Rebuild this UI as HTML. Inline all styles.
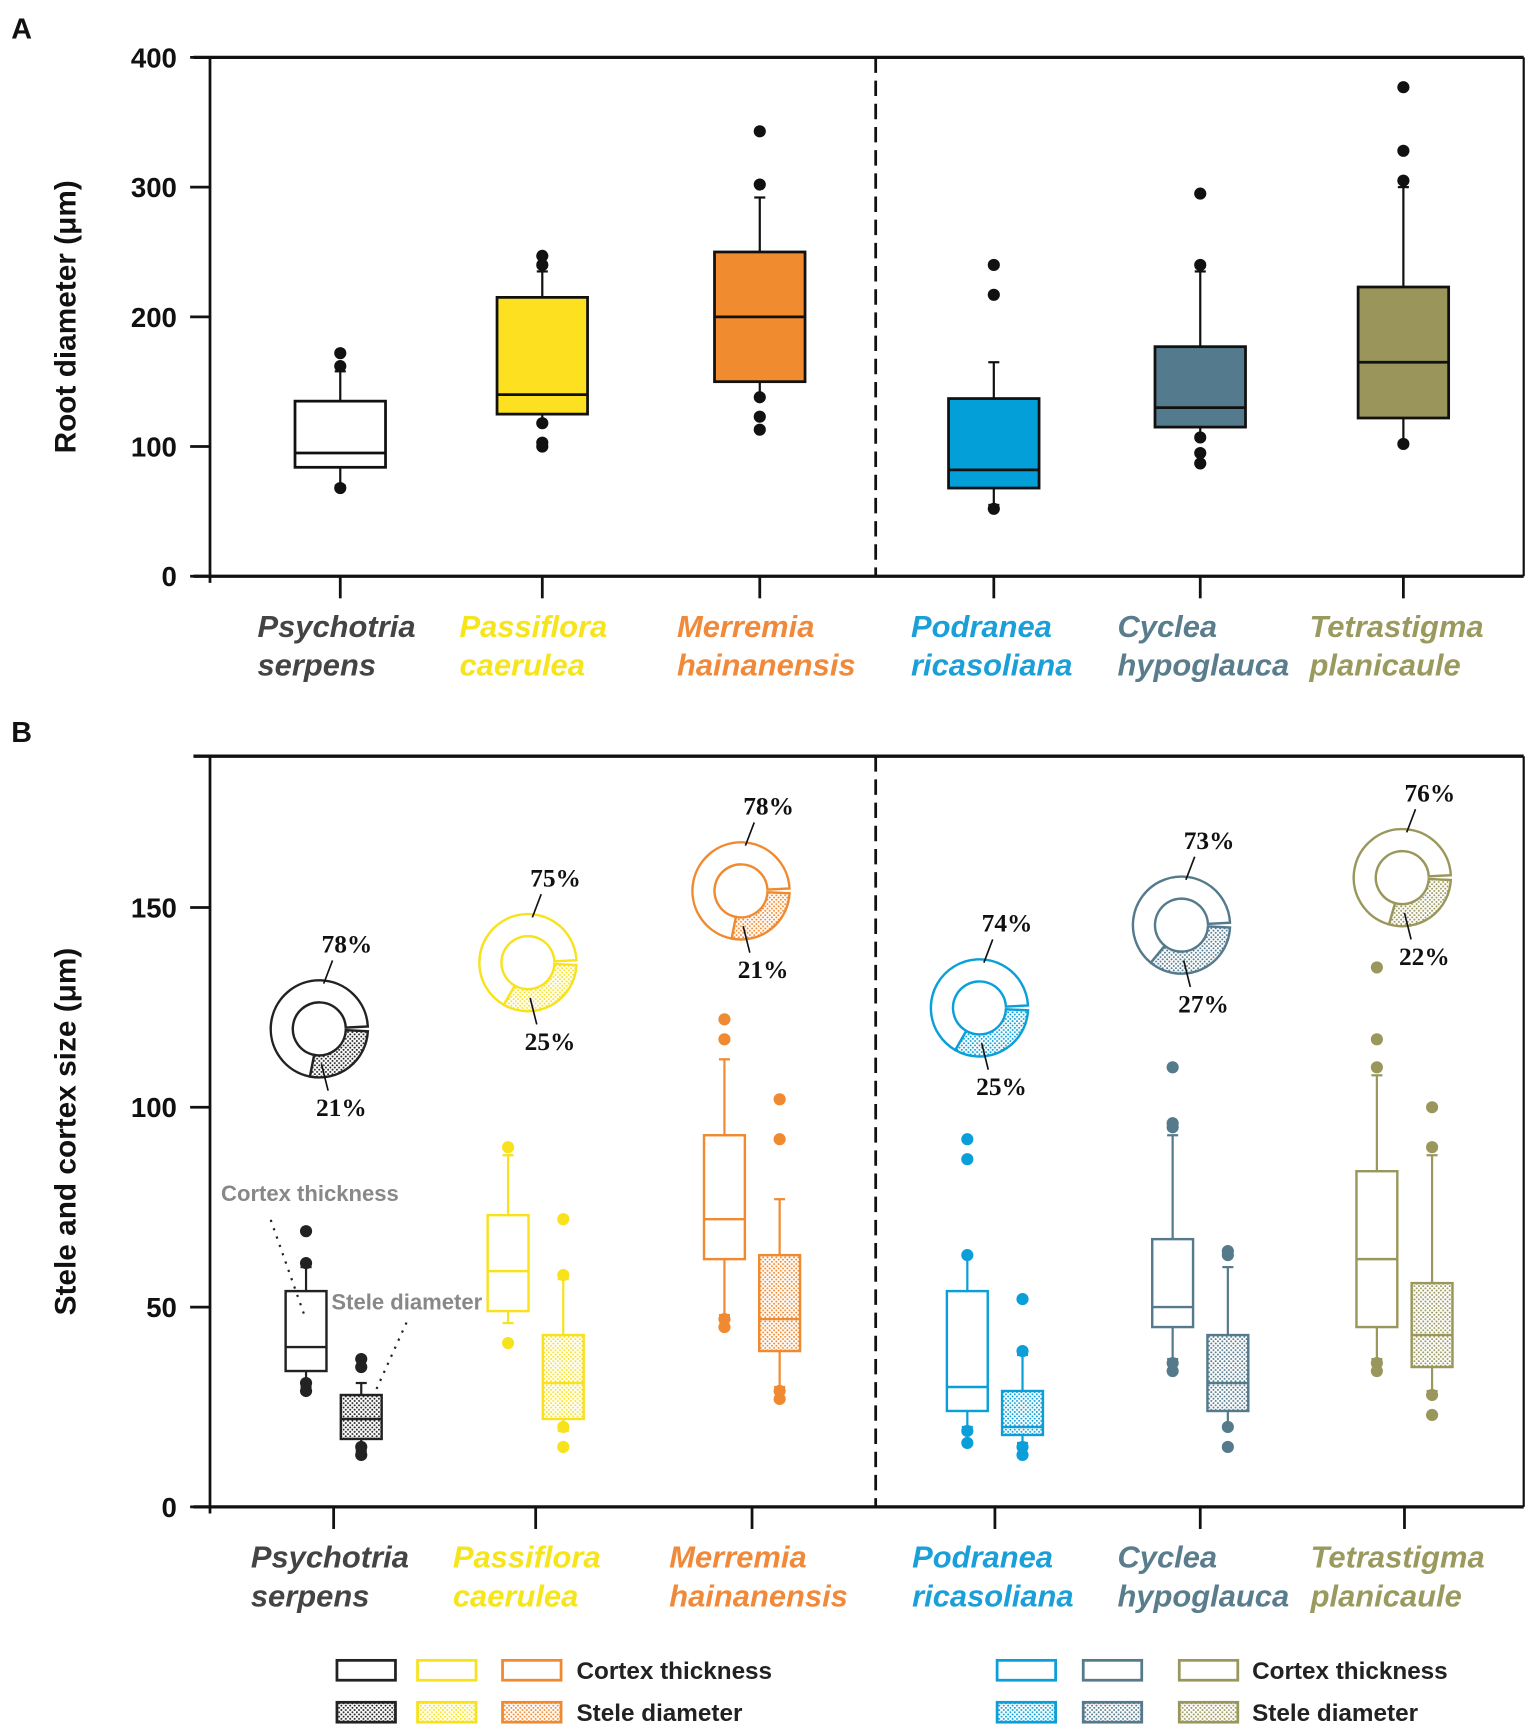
<!DOCTYPE html>
<html><head><meta charset="utf-8"><style>
html,body{margin:0;padding:0;background:#fff}
svg{display:block}
.tk{font-family:"Liberation Sans",sans-serif;font-weight:bold;font-size:25px;fill:#111}
.sp{font-family:"Liberation Sans",sans-serif;font-weight:bold;font-style:italic;font-size:28px}
.pc{font-family:"Liberation Serif",serif;font-weight:bold;font-size:23px;fill:#111}
.lg{font-family:"Liberation Sans",sans-serif;font-weight:bold;font-size:22px;fill:#222}
</style></head><body>
<svg id="c" width="1535" height="1731" viewBox="0 0 1390 1568" xmlns="http://www.w3.org/2000/svg">
<defs></defs>
</svg>
<script>
const species=[["Psychotria","serpens"],["Passiflora","caerulea"],["Merremia","hainanensis"],["Podranea","ricasoliana"],["Cyclea","hypoglauca"],["Tetrastigma","planicaule"]];
const colors=["#222222","#f7e21c","#f08a30","#0a9fd8","#557a8c","#9a975c"];
const fillsA=["#ffffff","#fde01f","#f08b30","#029fd9","#537a8d","#9a955a"];
const labelColors=["#444444","#f5e51a","#f0893a","#1a9fd8","#5a7d8d","#9a9a5f"];
// panel A: [wlo,q1,med,q3,whi]
const rootBox=[[70,84,95,135,158],[118,125,140,215,235],[138,150,200,250,292],[55,68,82,137,165],[107,115,130,177,235],[103,122,165,223,300]];
const rootOut=[[68,162,172],[100,103,118,240,247],[113,123,138,302,343],[52,217,240],[87,95,107,240,295],[102,305,328,377]];
const cortexBox=[[30,34,40,54,60],[46,49,59,73,88],[48,62,72,93,112],[20,24,30,54,63],[37,45,50,67,93],[37,45,62,84,108]];
const cortexOut=[[29,31,61,69],[41,90],[45,47,117,122],[16,19,63,87,92],[34,36,95,96,110],[34,36,110,117,135]];
const steleBox=[[14,17,22,28,31],[19,22,31,43,57],[30,39,47,63,77],[16,18,20,29,38],[20,24,31,43,60],[29,35,43,56,88]];
const steleOut=[[13,15,35,37],[15,20,58,72],[27,29,92,102],[13,15,39,52],[15,20,63,64],[23,28,90,100]];
const cortexPct=["78%","75%","78%","74%","73%","76%"];
const stelePct=["21%","25%","21%","25%","27%","22%"];
const stelePctVal=[21,25,21,25,27,22];
const ticksA=[0,100,200,300,400];
const ticksB=[0,50,100,150];

const svg=document.getElementById('c');const NS="http://www.w3.org/2000/svg";
function el(t,a,p){const e=document.createElementNS(NS,t);for(const k in a)e.setAttribute(k,a[k]);(p||svg).appendChild(e);return e;}
const catXA=[308,491,688,900,1087,1271];
const catXB=[302,485,681,901,1087,1272];
const yA=v=>522-v*470/400;
const yB=v=>1365-v*543/150;
const defs=svg.querySelector('defs');
colors.forEach((c,i)=>{const p=el('pattern',{id:'dot'+i,width:4,height:4,patternUnits:'userSpaceOnUse'},defs);el('rect',{width:4,height:4,fill:'#fff'},p);el('circle',{cx:1,cy:1,r:0.9,fill:c},p);el('circle',{cx:3,cy:3,r:0.9,fill:c},p);});

function frame(top,bot,ticks,yf,catX,title){
  let l;
  l=el('line',{x1:175,y1:top,x2:1380,y2:top,stroke:'#111','stroke-width':3});
  l=el('line',{x1:1380,y1:top,x2:1380,y2:bot,stroke:'#111','stroke-width':2});
  l=el('line',{x1:190,y1:top,x2:190,y2:bot+6,stroke:'#111','stroke-width':2.5});
  l=el('line',{x1:175,y1:bot,x2:1380,y2:bot,stroke:'#111','stroke-width':3});
  l=el('line',{x1:793,y1:top,x2:793,y2:bot,stroke:'#111','stroke-width':2.5,'stroke-dasharray':'14 7'});
  ticks.forEach(t=>{const y=yf(t);el('line',{x1:172,y1:y,x2:190,y2:y,stroke:'#111','stroke-width':2.5});
    const tx=el('text',{x:160,y:y+9,'text-anchor':'end',class:'tk'});tx.textContent=t;});
  catX.forEach((x,i)=>{el('line',{x1:x,y1:bot,x2:x,y2:bot+20,stroke:'#111','stroke-width':2.5});
    const tx=el('text',{x:x-75+(i==5?-10:0),y:bot+55,class:'sp',fill:labelColors[i]});
    const a=el('tspan',{x:x-75+(i==5?-10:0)},tx);a.textContent=species[i][0];const b=el('tspan',{x:x-75+(i==5?-10:0),dy:35},tx);b.textContent=species[i][1];});
  const ty=(top+bot)/2;const tt=el('text',{transform:`translate(68,${ty}) rotate(-90)`,'text-anchor':'middle',class:'tk',style:'font-size:27px'});tt.textContent=title;
}
function box(x,w,b,outs,yf,stroke,fill,sw,name){
  const g=el('g',{});
  el('line',{x1:x,y1:yf(b[0]),x2:x,y2:yf(b[1]),stroke:stroke,'stroke-width':2},g);
  el('line',{x1:x,y1:yf(b[3]),x2:x,y2:yf(b[4]),stroke:stroke,'stroke-width':2},g);
  el('line',{x1:x-5,y1:yf(b[0]),x2:x+5,y2:yf(b[0]),stroke:stroke,'stroke-width':2},g);
  el('line',{x1:x-5,y1:yf(b[4]),x2:x+5,y2:yf(b[4]),stroke:stroke,'stroke-width':2},g);
  el('rect',{x:x-w/2,y:yf(b[3]),width:w,height:yf(b[1])-yf(b[3]),fill:fill,stroke:stroke,'stroke-width':sw},g);
  el('line',{x1:x-w/2,y1:yf(b[2]),x2:x+w/2,y2:yf(b[2]),stroke:stroke,'stroke-width':sw},g);
  outs.forEach(o=>el('circle',{cx:x,cy:yf(o),r:5.5,fill:stroke},g));
}
let tA=el('text',{x:10,y:35,class:'tk',style:'font-size:26px'});tA.textContent='A';
frame(52,522,ticksA,yA,catXA,'Root diameter (\u03bcm)');
catXA.forEach((x,i)=>box(x,82,rootBox[i],rootOut[i],yA,'#111',fillsA[i],2.5,'root-box-'+i));
let tB=el('text',{x:10,y:672,class:'tk',style:'font-size:26px'});tB.textContent='B';
frame(685,1365,ticksB,yB,catXB,'Stele and cortex size (\u03bcm)');
catXB.forEach((x,i)=>{box(x-25,37,cortexBox[i],cortexOut[i],yB,colors[i],'none',2.2,'cortex-box-'+i);
  box(x+25,37,steleBox[i],steleOut[i],yB,colors[i],'url(#dot'+i+')',2.2,'stele-box-'+i);});
const donutC=[[289,932],[478,872],[671,807],[887,913],[1070,838],[1270,795]];
donutC.forEach((c,i)=>{const[cx,cy]=c;const R=44,r=24;const g=el('g',{});
  const pt=(rad,a)=>[cx+rad*Math.cos(a),cy+rad*Math.sin(a)];
  function seg(a0,a1,fill){const large=(a1-a0)>Math.PI?1:0;const p1=pt(R,a0),p2=pt(R,a1),p3=pt(r,a1),p4=pt(r,a0);
    el('path',{d:`M${p1}L${p1} A${R},${R} 0 ${large} 1 ${p2} L${p3} A${r},${r} 0 ${large} 0 ${p4}Z`,fill:fill,stroke:colors[i],'stroke-width':2.2},g);}
  const gap=0.1;const stA=gap/2, stB=stA+stelePctVal[i]/100*2*Math.PI*1.3;
  seg(stA,stB,'url(#dot'+i+')');seg(stB,2*Math.PI-gap/2,'#fff');
  el('line',{x1:cx+4,y1:cy-R+3,x2:cx+12,y2:cy-R-18,stroke:'#111','stroke-width':1.5},g);
  el('line',{x1:cx+2,y1:cy+R-12,x2:cx+8,y2:cy+R+12,stroke:'#111','stroke-width':1.5},g);
  const t1=el('text',{x:cx+25,y:cy-R-25,'text-anchor':'middle',class:'pc'},g);t1.textContent=cortexPct[i];
  const t2=el('text',{x:cx+20,y:cy+R+35,'text-anchor':'middle',class:'pc'},g);t2.textContent=stelePct[i];
});
let a1=el('text',{x:200,y:1088,class:'lg',style:'fill:#888;font-size:20px'});a1.textContent='Cortex thickness';
let a2=el('text',{x:300,y:1186,class:'lg',style:'fill:#888;font-size:20px'});a2.textContent='Stele diameter';
el('line',{x1:245,y1:1105,x2:275,y2:1190,stroke:'#222','stroke-width':2,'stroke-dasharray':'2 6'});
el('line',{x1:368,y1:1198,x2:340,y2:1260,stroke:'#222','stroke-width':2,'stroke-dasharray':'2 6'});
function legendBox(x,y,i,st,name){const r=el('rect',{x:x,y:y,width:53,height:18,fill:st?'url(#dot'+i+')':'#fff',stroke:colors[i],'stroke-width':2.5});}
const lx=[[305,378,455],[903,981,1068]];
[[0,1,2],[3,4,5]].forEach((grp,gi)=>{grp.forEach((ci,k)=>{legendBox(lx[gi][k],1504,ci,false,'legend-cortex-'+ci);legendBox(lx[gi][k],1542,ci,true,'legend-stele-'+ci);});
  const tx=gi?1134:522;
  const t1=el('text',{x:tx,y:1521,class:'lg'});t1.textContent='Cortex thickness';
  const t2=el('text',{x:tx,y:1559,class:'lg'});t2.textContent='Stele diameter';});
</script>
</body></html>
